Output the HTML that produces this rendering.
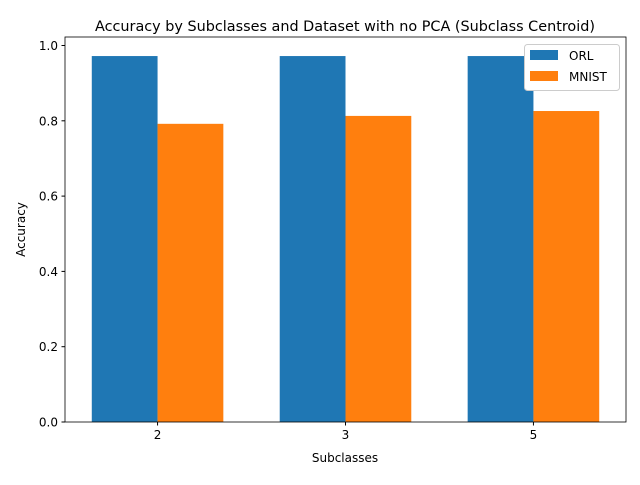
<!DOCTYPE html>
<html><head><meta charset="utf-8"><style>
body{margin:0;background:#fff;}
text{font-family:"DejaVu Sans","Liberation Sans",sans-serif;}
</style></head><body>
<svg id="chart" width="640" height="480">
<rect width="640" height="480" fill="#fff"/>
<text x="345" y="31" font-size="14.4" text-anchor="middle">Accuracy by Subclasses and Dataset with no PCA (Subclass Centroid)</text>
<g id="bars"></g>
<g id="axes"></g>
<text x="345" y="462" font-size="12" text-anchor="middle">Subclasses</text>
<text transform="translate(25,229.5) rotate(-90)" font-size="12" text-anchor="middle">Accuracy</text>
<g>
<rect x="524.5" y="44.5" width="95" height="46" fill="#fff" stroke="#ccc" rx="3"/>
<rect x="530" y="50" width="28" height="10" fill="#1f77b4"/>
<text x="569" y="60" font-size="12">ORL</text>
<rect x="530" y="71" width="28" height="10" fill="#ff7f0e"/>
<text x="569" y="81" font-size="12">MNIST</text>
</g>
</svg>
<script>
const categories=["2","3","5"];
const orl=[0.972,0.972,0.972];
const mnist=[0.792,0.813,0.826];
const yTicks=[0,0.2,0.4,0.6,0.8,1.0];
const L=65,R=626,T=37,B=422;
const xmin=-0.4925,xmax=2.4925,ymax=1.0226;
const sx=v=>L+(v-xmin)/(xmax-xmin)*(R-L);
const sy=v=>B-v/ymax*(B-T);
const NS="http://www.w3.org/2000/svg";
const bars=document.getElementById('bars'),axes=document.getElementById('axes');
function mk(tag,attrs,parent){const e=document.createElementNS(NS,tag);for(const k in attrs)e.setAttribute(k,attrs[k]);parent.appendChild(e);return e;}
const w=0.35;
categories.forEach((c,i)=>{
 let r=mk('rect',{x:sx(i-w),y:sy(orl[i]),width:sx(i)-sx(i-w),height:B-sy(orl[i]),fill:'#1f77b4'},bars);
 
 
 let m=mk('rect',{x:sx(i),y:sy(mnist[i]),width:sx(i+w)-sx(i),height:B-sy(mnist[i]),fill:'#ff7f0e'},bars);
 
 
 mk('line',{x1:sx(i),x2:sx(i),y1:B,y2:B+3.5,stroke:'#000'},axes);
 let t=mk('text',{x:sx(i),y:B+17,'font-size':12,'text-anchor':'middle'},axes);
 t.textContent=c;
 
 
});
yTicks.forEach(v=>{
 mk('line',{x1:L-3.5,x2:L,y1:sy(v),y2:sy(v),stroke:'#000'},axes);
 let t=mk('text',{x:L-7,y:sy(v)+4.5,'font-size':12,'text-anchor':'end'},axes);
 t.textContent=v.toFixed(1);
 
 
});
mk('rect',{x:L,y:T,width:R-L,height:B-T,fill:'none',stroke:'#000','stroke-width':0.8},axes);
</script>
</body></html>
